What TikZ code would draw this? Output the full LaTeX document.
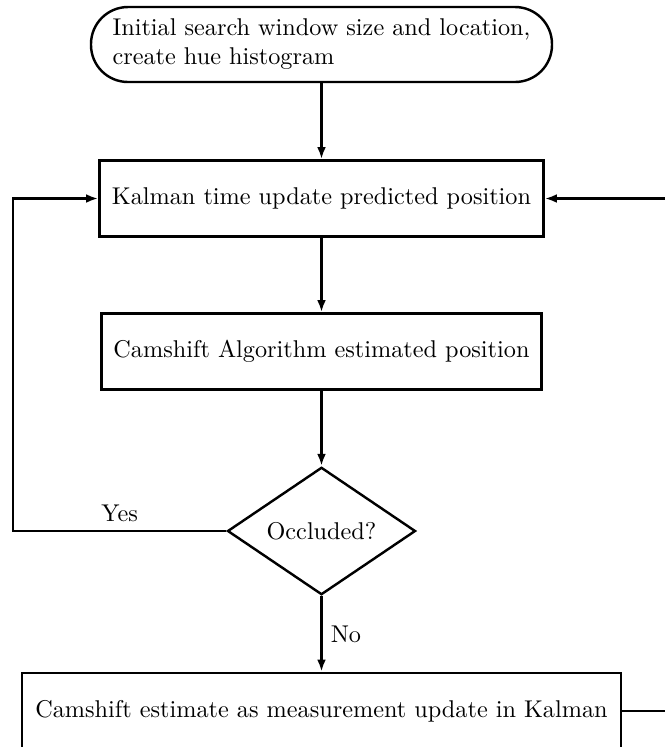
\documentclass[tikz,border=0pt]{standalone}
\usepackage{tikz}
\usetikzlibrary{shapes.geometric,
           arrows.meta,
           positioning}
\newlength\pxu
\setlength\pxu{0.0145cm}
\tikzset{
  startbox/.style={draw,line width=1pt,rounded corners=37\pxu,align=left,
    minimum width=461\pxu,minimum height=75\pxu,inner sep=0pt},
  procbox/.style={draw,line width=1pt,rectangle,minimum height=76\pxu,inner sep=0pt},
  decision/.style={draw,line width=1pt,diamond,minimum width=188\pxu,
    minimum height=126\pxu,inner sep=0pt},
  flow/.style={line width=1pt,-{Latex[length=5pt,width=3.6pt]}}
}

\begin{document}
\begin{tikzpicture}[x=1\pxu,y=-1\pxu]
\clip(0,0)rectangle(665,747);
\useasboundingbox(0,0)rectangle(665,747);
\node[startbox](init)at(321.5,44.5){Initial search window size and location,\\create hue histogram};
\node[procbox,minimum width=444\pxu](predict)at(321.5,198.5){Kalman time update predicted position};
\node[procbox,minimum width=440\pxu](camshift)at(321.5,351.5){Camshift Algorithm estimated position};
\node[decision](occluded)at(321.5,531){Occluded?};
\node[procbox,minimum width=599\pxu](measure)at(321.5,711){Camshift estimate as measurement update in Kalman};
\coordinate(leftloop)at(13,531);
\coordinate(rightloop)at(700,711);
% connectors
\draw[flow](init)--(predict);
\draw[flow](predict)--(camshift);
\draw[flow](camshift)--(occluded);
\draw[flow](occluded)--node[right]{No}(measure);
\draw[flow](occluded.west)--node[above]{Yes}(leftloop)|-(predict.west);
\draw[flow](measure.east)--(rightloop)|-(predict.east);
\end{tikzpicture}
\end{document}
